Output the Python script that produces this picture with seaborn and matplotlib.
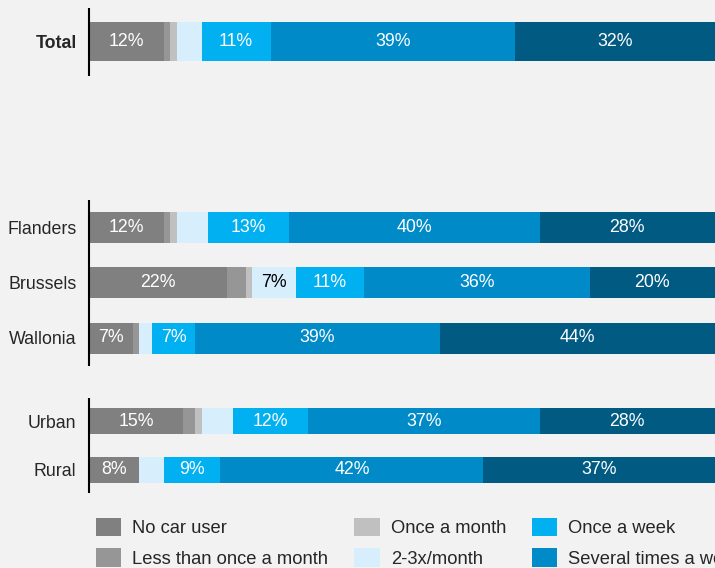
import matplotlib.pyplot as plt
import numpy as np
import pandas as pd
import seaborn as sns
from matplotlib.patches import Patch

# Data (share of respondents, %)
groups = ["Total", "Flanders", "Brussels", "Wallonia", "Urban", "Rural"]
categories = ["No car user", "Less than once a month", "Once a month", "2-3x/month",
              "Once a week", "Several times a week", "Daily"]
no_car = [12, 12, 22, 7, 15, 8]
less_monthly = [1, 1, 3, 1, 2, 0]
once_month = [1, 1, 1, 0, 1, 0]
two_three = [4, 5, 7, 2, 5, 4]
once_week = [11, 13, 11, 7, 12, 9]
several_week = [39, 40, 36, 39, 37, 42]
daily = [32, 28, 20, 44, 28, 37]

colors = ["#808080", "#969696", "#c0c0c0", "#d7eefc", "#00b0f0", "#008ac8", "#005a82"]
bg = "#f2f2f2"

# layout (rows in pixel-like units, top to bottom)
row_pos = [41.5, 227.5, 282.5, 338, 421, 469.5]
blocks = [(["Total"], 39), (["Flanders", "Brussels", "Wallonia"], 31), (["Urban", "Rural"], 26)]
spine_spans = [(8, 76), (200, 366), (398, 493)]

sns.set_style("white")
plt.rcParams["font.family"] = ["Liberation Sans", "DejaVu Sans"]

shares = pd.DataFrame(dict(zip(categories, [no_car, less_monthly, once_month, two_three,
                                            once_week, several_week, daily])), index=groups)
shares.index.name = "group"
ends = shares.cumsum(axis=1)
starts = ends - shares
palette = dict(zip(categories, colors))

long = ends.reset_index().melt(id_vars="group", var_name="category", value_name="end")
long["pos"] = long["group"].map(dict(zip(groups, row_pos)))

fig = plt.figure(figsize=(7.15, 5.68), dpi=100, facecolor=bg)
ax = fig.add_axes([89 / 715, 0, 626 / 715, 1], facecolor=bg)

# stacked bars drawn as overlapping cumulative bars (largest first)
for members, h in blocks:
    sub = long[long["group"].isin(members)]
    u = np.sort(sub["pos"].unique())
    spacing = np.diff(u).min() if len(u) > 1 else 1
    sns.barplot(data=sub, x="end", y="pos", hue="category", hue_order=categories[::-1],
                palette=palette, orient="h", native_scale=True, dodge=False,
                width=h / spacing, saturation=1, errorbar=None, legend=False,
                linewidth=0, ax=ax)

for g, pos in zip(groups, row_pos):
    for cat in categories:
        v = shares.loc[g, cat]
        if v >= 6:
            ax.text(starts.loc[g, cat] + v / 2, pos, f"{v:.0f}%",
                    color="black" if cat == "2-3x/month" else "white",
                    ha="center", va="center", fontsize=12.8)

ax.set_xlim(0, 100)
ax.set_ylim(568, 0)
ax.set_yticks(row_pos, groups)
ax.set_xticks([])
ax.set_xlabel("")
ax.set_ylabel("")
ax.tick_params(axis="y", length=0, pad=9, labelsize=12.8)
ax.get_yticklabels()[0].set_fontweight("bold")
for s in ax.spines.values():
    s.set_visible(False)
for y0, y1 in spine_spans:
    ax.vlines(0, y0, y1, color="black", lw=1.5, clip_on=False)

handles = [Patch(facecolor=c, edgecolor="none") for c in colors]
fig.legend(handles, categories, ncol=4, loc="upper left",
           bbox_to_anchor=(96 / 715, 1 - 518 / 568), frameon=False, fontsize=13.2,
           handlelength=1.39, handleheight=1.15, handletextpad=0.6,
           columnspacing=1.4, labelspacing=0.6, borderpad=0, borderaxespad=0)

fig.savefig("out.png", dpi=100, facecolor=bg)
plt.close(fig)
